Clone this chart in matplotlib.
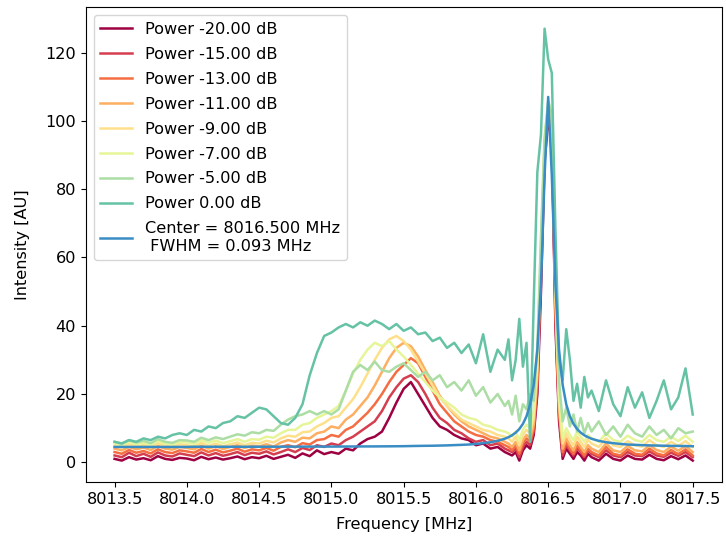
import numpy as np
import matplotlib
matplotlib.use("Agg")
import matplotlib.pyplot as plt

plt.rcParams['font.size'] = 11.6

# Frequency grid (MHz): coarse on the wings, finer around the resonance
freq = np.round(np.concatenate([
    np.arange(8013.50, 8016.201, 0.05),
    np.arange(8016.225, 8016.776, 0.025),
    np.arange(8016.80, 8017.501, 0.05),
]), 3)

powers = [-20, -15, -13, -11, -9, -7, -5, 0]

p_m20 = [1.0, 0.5, 1.5, 0.8, 1.2, 0.6, 1.8, 1.0, 0.7, 1.3,
         1.1, 0.6, 1.6, 0.9, 1.4, 0.8, 1.2, 1.7, 0.9, 1.5,
         1.2, 1.9, 1.0, 1.6, 2.2, 1.3, 2.6, 1.8, 3.5, 2.4,
         3.0, 2.5, 4.0, 3.5, 5.5, 6.8, 7.5, 9.0, 13.0, 17.5,
         21.5, 23.5, 20.0, 16.5, 13.0, 10.5, 9.5, 8.0, 7.0, 6.5,
         5.0, 5.5, 4.0, 4.5, 3.0,
         2.5, 2.0, 3.0, 0.5, 3.5, 5.0, 4.0, 8.0, 20.0, 50.0, 88.0, 100.0,
         95.0, 40.0, 12.0, 1.0, 4.0, 2.5, 1.0, 3.0, 2.0, 0.5, 2.5,
         1.5, 0.5, 2.5, 1.0, 0.5, 2.0, 1.0, 0.8, 2.2, 1.0, 0.6, 1.8, 0.9, 2.0, 0.5]

p_m15 = [2.0, 1.5, 2.8, 1.8, 2.5, 1.6, 2.9, 2.0, 1.7, 2.6,
         2.2, 1.8, 2.9, 2.0, 2.7, 1.9, 2.4, 3.0, 2.1, 2.8,
         2.5, 3.2, 2.3, 3.0, 3.8, 3.0, 4.2, 3.6, 5.0, 4.5,
         5.5, 5.0, 6.5, 7.5, 9.0, 10.5, 12.0, 15.0, 19.0, 22.0,
         24.5, 25.5, 23.5, 20.0, 16.0, 13.0, 11.5, 9.5, 8.5, 7.0,
         6.0, 6.5, 5.0, 5.5, 4.0,
         3.5, 3.0, 4.0, 1.5, 4.5, 6.0, 5.0, 9.0, 22.0, 55.0, 90.0, 102.0,
         97.0, 42.0, 14.0, 2.0, 5.0, 3.5, 2.0, 4.0, 3.0, 1.5, 3.5,
         2.5, 1.5, 3.5, 2.0, 1.5, 3.0, 2.0, 1.8, 3.2, 2.0, 1.6, 2.8, 1.9, 3.0, 1.5]

p_m13 = [3.0, 2.5, 3.6, 2.8, 3.3, 2.6, 3.8, 3.0, 2.7, 3.5,
         3.2, 2.8, 3.9, 3.0, 3.7, 2.9, 3.4, 4.0, 3.1, 3.8,
         3.5, 4.2, 3.4, 4.5, 5.0, 4.4, 5.6, 5.2, 6.5, 6.8,
         8.0, 7.5, 9.5, 10.5, 12.5, 14.5, 17.0, 20.0, 23.5, 26.5,
         28.5, 30.5, 29.0, 25.0, 21.0, 17.0, 14.5, 12.0, 10.5, 9.0,
         8.0, 7.5, 6.5, 6.0, 5.0,
         4.5, 3.5, 5.0, 2.5, 5.5, 7.0, 6.0, 10.0, 24.0, 58.0, 92.0, 103.0,
         98.0, 45.0, 15.0, 3.0, 6.0, 4.0, 2.5, 5.0, 3.5, 2.0, 4.0,
         3.0, 2.0, 4.5, 2.5, 2.0, 3.8, 2.5, 2.2, 4.0, 2.6, 2.0, 3.6, 2.4, 3.8, 2.0]

p_m11 = [4.0, 3.5, 4.5, 3.8, 4.3, 3.6, 4.8, 4.0, 3.7, 4.5,
         4.2, 3.8, 4.9, 4.0, 4.7, 3.9, 4.5, 5.0, 4.2, 4.9,
         4.6, 5.3, 4.6, 5.8, 6.5, 6.0, 7.2, 7.0, 8.5, 9.0,
         10.5, 10.0, 12.5, 14.0, 16.5, 19.0, 22.5, 26.5, 30.5, 33.5,
         35.0, 34.0, 31.0, 27.0, 23.5, 19.5, 16.5, 14.0, 12.0, 10.5,
         9.5, 8.5, 7.5, 7.0, 6.0,
         5.5, 4.5, 6.0, 3.5, 6.5, 8.0, 7.0, 11.0, 26.0, 60.0, 93.0, 104.0,
         99.0, 48.0, 16.0, 4.0, 7.0, 5.0, 3.5, 6.0, 4.5, 3.0, 5.0,
         4.0, 3.0, 5.5, 3.5, 3.0, 4.8, 3.5, 3.2, 5.0, 3.6, 3.0, 4.6, 3.4, 4.8, 3.0]

p_m9 = [4.8, 4.3, 5.3, 4.6, 5.1, 4.4, 5.6, 4.8, 4.5, 5.3,
        5.0, 4.6, 5.7, 4.8, 5.5, 4.7, 5.3, 5.8, 5.0, 5.7,
        5.5, 6.3, 5.8, 7.0, 7.8, 7.5, 8.8, 9.0, 10.5, 11.5,
        13.0, 13.5, 16.0, 18.5, 22.0, 26.0, 30.0, 33.5, 36.0, 37.0,
        35.5, 33.0, 29.5, 26.0, 22.5, 19.0, 16.5, 14.5, 12.5, 11.5,
        10.5, 9.5, 9.0, 8.0, 7.5,
        7.0, 6.0, 7.5, 5.0, 8.0, 9.5, 8.5, 13.0, 28.0, 62.0, 94.0, 105.0,
        100.0, 50.0, 18.0, 5.5, 8.5, 6.5, 5.0, 7.5, 6.0, 4.5, 6.5,
        5.5, 4.5, 7.0, 5.0, 4.5, 6.2, 5.0, 4.6, 6.5, 5.0, 4.5, 6.0, 4.8, 6.2, 4.5]

p_m7 = [5.5, 5.0, 6.0, 5.3, 5.8, 5.1, 6.3, 5.5, 5.2, 6.0,
        5.8, 5.4, 6.5, 5.7, 6.4, 5.6, 6.2, 6.8, 6.0, 6.8,
        6.6, 7.5, 7.2, 8.5, 9.5, 9.5, 11.0, 11.5, 13.0, 14.0,
        15.0, 16.5, 21.0, 26.0, 30.0, 33.0, 35.0, 34.0, 35.5, 33.0,
        31.0, 28.5, 26.0, 23.5, 21.0, 19.0, 17.5, 16.0, 14.0, 13.0,
        12.5, 11.0, 10.5, 9.5, 9.0,
        8.5, 7.5, 9.0, 6.5, 9.5, 11.0, 10.0, 15.0, 30.0, 64.0, 94.0, 105.0,
        101.0, 52.0, 20.0, 7.0, 10.0, 8.0, 6.5, 9.0, 7.5, 6.0, 8.0,
        7.0, 6.0, 8.5, 6.5, 6.0, 7.8, 6.5, 6.0, 8.0, 6.5, 6.0, 7.5, 6.2, 7.8, 6.0]

p_m5 = [6.0, 5.5, 6.5, 5.8, 6.3, 5.6, 6.8, 6.0, 5.7, 6.5,
        6.4, 6.0, 7.2, 6.5, 7.3, 6.8, 7.5, 8.2, 7.8, 8.8,
        8.5, 9.5, 9.2, 11.0, 12.5, 13.5, 14.0, 15.0, 14.0, 15.0,
        14.0, 15.5, 21.0, 26.5, 28.5, 27.0, 29.5, 27.0, 26.5, 28.0,
        29.0, 27.0, 25.0, 26.5, 24.0, 25.5, 22.0, 23.5, 21.0, 24.0,
        19.5, 22.0, 17.5, 20.0, 16.5,
        18.0, 14.0, 19.5, 12.0, 17.0, 15.5, 20.0, 18.0, 34.0, 66.0, 95.0, 106.0,
        102.0, 55.0, 24.0, 12.0, 16.0, 10.5, 14.0, 9.0, 13.0, 8.5, 11.5,
        9.0, 12.0, 8.0, 10.5, 7.5, 11.0, 8.5, 7.5, 10.5, 8.0, 9.5, 7.0, 10.0, 8.5, 9.0]

p_0 = [6.0, 5.5, 6.5, 6.0, 7.0, 6.5, 7.5, 7.0, 8.0, 8.5,
       8.0, 9.5, 9.0, 10.5, 10.0, 11.5, 12.0, 13.5, 13.0, 14.5,
       16.0, 15.5, 13.5, 11.5, 11.0, 13.0, 17.0, 25.5, 32.0, 37.0,
       38.0, 39.5, 40.5, 39.5, 41.0, 40.0, 41.5, 40.5, 39.0, 40.5,
       38.5, 39.5, 37.5, 38.0, 35.5, 36.5, 33.5, 35.0, 32.0, 34.5,
       29.0, 37.5, 26.5, 33.0, 30.0,
       36.0, 24.0, 30.0, 42.0, 28.0, 35.0, 6.0, 47.0, 85.0, 96.0, 127.0, 118.0,
       114.0, 68.0, 30.0, 24.0, 39.0, 30.0, 18.0, 23.0, 16.0, 25.0, 19.0,
       21.0, 15.0, 24.0, 17.0, 13.5, 22.0, 16.0, 20.5, 13.0, 18.0, 24.0, 15.5, 19.0, 27.5, 14.0]

# Lorentzian fit
fit = [4.5, 4.5, 4.5, 4.5, 4.5, 4.5, 4.5, 4.5, 4.5, 4.5,
       4.5, 4.55, 4.55, 4.55, 4.55, 4.55, 4.55, 4.55, 4.55, 4.55,
       4.56, 4.56, 4.57, 4.57, 4.58, 4.58, 4.59, 4.59, 4.6, 4.6,
       4.6, 4.61, 4.62, 4.63, 4.64, 4.65, 4.65, 4.67, 4.68, 4.7,
       4.72, 4.76, 4.8, 4.83, 4.85, 4.9, 4.95, 5.03, 5.11, 5.2,
       5.38, 5.6, 5.87, 6.28, 6.9,
       7.35, 7.92, 8.69, 9.75, 11.25, 13.48, 16.95, 22.7, 32.9, 52.0, 84.0, 107.0,
       84.0, 52.0, 32.9, 22.7, 16.95, 13.48, 11.25, 9.75, 8.69, 7.92, 7.35,
       6.9, 6.28, 5.87, 5.6, 5.38, 5.2, 5.11, 5.03, 4.95, 4.9, 4.85, 4.8, 4.8, 4.75, 4.7]

series = [p_m20, p_m15, p_m13, p_m11, p_m9, p_m7, p_m5, p_0]
colors = ['#9e0142', '#d53e4f', '#f46d43', '#fdae61',
          '#fee08b', '#e6f598', '#abdda4', '#66c2a5']

fig = plt.figure(figsize=(7.26, 5.43), dpi=100)
ax = fig.add_axes([0.118, 0.112, 0.876, 0.875])

for p, y, c in zip(powers, series, colors):
    ax.plot(freq, y, color=c, lw=1.8, label=f'Power {p:.2f} dB')
ax.plot(freq, fit, color='#3a8dc4', lw=1.8,
        label='Center = 8016.500 MHz\n FWHM = 0.093 MHz')

ax.set_xticks(np.arange(8013.5, 8017.51, 0.5))
ax.set_xlabel('Frequency [MHz]', labelpad=7)
ax.set_ylabel('Intensity [AU]', labelpad=11)
ax.legend(loc='upper left', labelspacing=0.62)

fig.savefig('out.png', dpi=100)
